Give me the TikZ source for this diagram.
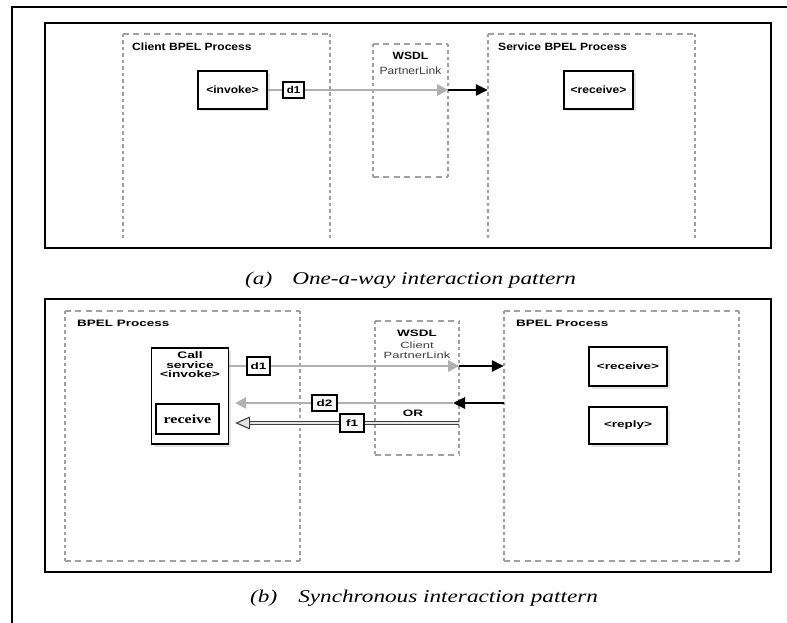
\documentclass[tikz,border=0pt]{standalone}
\usepackage{fontspec}
\usetikzlibrary{arrows.meta,shadows}
\newfontfamily\fa[FakeStretch=1.15]{Liberation Sans}
\newfontfamily\fb[FakeStretch=1.45]{Liberation Sans}
\newfontfamily\capf[FakeStretch=1.29]{Liberation Serif}
\newfontfamily\rcvf[FakeStretch=1.28]{Liberation Serif}
\definecolor{dgray}{HTML}{A0A0A0}
\definecolor{lgray}{HTML}{B0B0B0}
\definecolor{tgray}{HTML}{3C3C3C}
\begin{document}
\begin{tikzpicture}[x=1pt,y=-1pt,
  hdash/.style={draw=dgray, line width=1.8pt, dash pattern=on 6pt off 4.5pt},
  vdash/.style={draw=dgray, line width=1.8pt, dash pattern=on 3.5pt off 3pt},
  frame/.style={draw=black, line width=2pt},
  region/.style={draw=none, inner sep=0pt},
  shad/.style={drop shadow={shadow xshift=2.5pt, shadow yshift=-2.5pt, opacity=0.22}},
  actA/.style={draw=black, line width=1.3pt, fill=white, inner sep=0pt, shad,
     font=\fa\bfseries\fontsize{10.5}{12}\selectfont},
  actB/.style={draw=black, line width=1.3pt, fill=white, inner sep=0pt, shad,
     font=\fb\bfseries\fontsize{9.3}{10}\selectfont},
  lblA/.style={inner sep=0pt, font=\fa\bfseries\fontsize{10.5}{12}\selectfont},
  subA/.style={inner sep=0pt, text=tgray, font=\fa\fontsize{10.5}{12}\selectfont},
  lblB/.style={inner sep=0pt, font=\fb\bfseries\fontsize{9.3}{10}\selectfont},
  subB/.style={inner sep=0pt, text=tgray, font=\fb\fontsize{9}{10}\selectfont},
  dlabA/.style={draw=black, line width=1.1pt, fill=white, inner sep=0pt,
     font=\fa\bfseries\fontsize{10}{12}\selectfont},
  dlabB/.style={draw=black, line width=1.1pt, fill=gray!6, inner sep=0pt,
     font=\fb\bfseries\fontsize{9.3}{10}\selectfont},
  garrow/.style={draw=lgray, line width=2.6pt, -{Triangle[length=11pt,width=11pt]}},
  barrow/.style={draw=black, line width=2.8pt, -{Triangle[length=12pt,width=11pt]}},
  farrow/.style={draw=gray!50!black, line width=1.1pt, double=gray!20, double distance=2.2pt,
     -{Triangle[open,length=15pt,width=13pt,fill=gray!20]}},
  capt/.style={inner sep=0pt, anchor=base west, font=\capf\itshape\fontsize{18}{20}\selectfont}
]
\useasboundingbox (0,0) rectangle (787,623);
% outer frame
\draw[line width=2.4pt] (12,623) -- (12,7) -- (787,7);
% panel frames
\draw[frame] (45,23) rectangle (771,248);
\draw[frame] (45,299) rectangle (771,572);

% ---------- panel (a) ----------
\node[region, minimum width=207pt, minimum height=204pt] (clientA) at (226.5,136) {};
\node[region, minimum width=75pt, minimum height=133pt] (wsdlA) at (410.5,110.5) {};
\node[region, minimum width=207pt, minimum height=204pt] (serviceA) at (591.5,136) {};
\draw[hdash] (clientA.north west) -- (clientA.north east);
\draw[vdash] (clientA.north west) -- (clientA.south west);
\draw[vdash] (clientA.north east) -- (clientA.south east);
\draw[hdash] (serviceA.north west) -- (serviceA.north east);
\draw[vdash] (serviceA.north west) -- (serviceA.south west);
\draw[vdash] (serviceA.north east) -- (serviceA.south east);
\draw[hdash] (wsdlA.north west) -- (wsdlA.north east);
\draw[hdash] (wsdlA.south west) -- (wsdlA.south east);
\draw[vdash] (wsdlA.north west) -- (wsdlA.south west);
\draw[vdash] (wsdlA.north east) -- (wsdlA.south east);

\node[lblA, anchor=west] (clientlbl) at (132,47) {Client BPEL Process};
\node[lblA, anchor=west] (servicelbl) at (498,47) {Service BPEL Process};
\node[lblA] (wsdlAt) at (410.5,56) {WSDL};
\node[subA] (plA) at (410.5,71) {PartnerLink};

\node[actA, minimum width=69pt, minimum height=38pt] (invokeA) at (232.5,90) {<invoke>};
\node[actA, minimum width=69pt, minimum height=38pt] (receiveA) at (598.5,90) {<receive>};

\draw[garrow] (invokeA.east) -- (wsdlA.east |- invokeA.east);
\draw[barrow] (wsdlA.east |- invokeA.east) -- (serviceA.west |- invokeA.east);
\node[dlabA, minimum width=21pt, minimum height=16pt] (d1A) at (293.5,90) {d1};

\node[capt] (capA) at (245,284) {(a)\hspace{20pt}One-a-way interaction pattern};

% ---------- panel (b) ----------
\node[region, minimum width=235pt, minimum height=250pt] (leftB) at (182.5,436) {};
\node[region, minimum width=84pt, minimum height=134pt] (wsdlB) at (417,388) {};
\node[region, minimum width=235pt, minimum height=250pt] (rightB) at (621.5,436) {};
\foreach \r in {leftB,wsdlB,rightB}{
  \draw[hdash] (\r.north west) -- (\r.north east);
  \draw[hdash] (\r.south west) -- (\r.south east);
  \draw[vdash] (\r.north west) -- (\r.south west);
  \draw[vdash] (\r.north east) -- (\r.south east);
}

\node[lblB, anchor=west] (leftlbl) at (77,323) {BPEL Process};
\node[lblB, anchor=west] (rightlbl) at (516,323) {BPEL Process};
\node[lblB] (wsdlBt) at (417,333) {WSDL};
\node[subB] (clB) at (417,345) {Client};
\node[subB] (plB) at (417,355) {PartnerLink};

\node[actB, minimum width=77pt, minimum height=96pt] (callB) at (190,396) {};
\node[lblB, align=center, font=\fb\bfseries\fontsize{9.5}{9.5}\selectfont] (calltxt) at (190,365) {Call\\service\\<invoke>};
\node[draw=black, line width=2pt, fill=white, inner sep=0pt, minimum width=63pt, minimum height=30pt,
      font=\rcvf\bfseries\fontsize{12.5}{14}\selectfont] (rcvIn) at (187.5,419) {receive};

\node[actB, minimum width=78pt, minimum height=39pt] (receiveB) at (628,366.5) {<receive>};
\node[actB, minimum width=78pt, minimum height=37pt] (replyB) at (628,425.5) {<reply>};

\coordinate (yd1) at (0,366);
\coordinate (yd2) at (0,403);
\coordinate (yf1) at (0,423);
\coordinate (d2tip) at (453,403);
\coordinate (tipL) at ([xshift=6pt]callB.east);

\draw[garrow] (callB.east |- yd1) -- (wsdlB.east |- yd1);
\draw[barrow] (wsdlB.east |- yd1) -- (rightB.west |- yd1);
\draw[barrow] (rightB.west |- yd2) -- (d2tip);
\draw[garrow] (d2tip) -- (tipL |- yd2);
\draw[farrow] (wsdlB.east |- yf1) -- (tipL |- yf1);

\node[dlabB, fill=white, minimum width=23pt, minimum height=18pt] (d1B) at (258.5,366) {d1};
\node[dlabB, minimum width=25pt, minimum height=16pt] (d2B) at (324.5,403) {d2};
\node[dlabB, minimum width=24pt, minimum height=18pt] (f1B) at (352,423) {f1};
\node[lblB] (orB) at (413,413) {OR};

\node[capt] (capB) at (250,602) {(b)\hspace{21pt}Synchronous interaction pattern};
\end{tikzpicture}
\end{document}
